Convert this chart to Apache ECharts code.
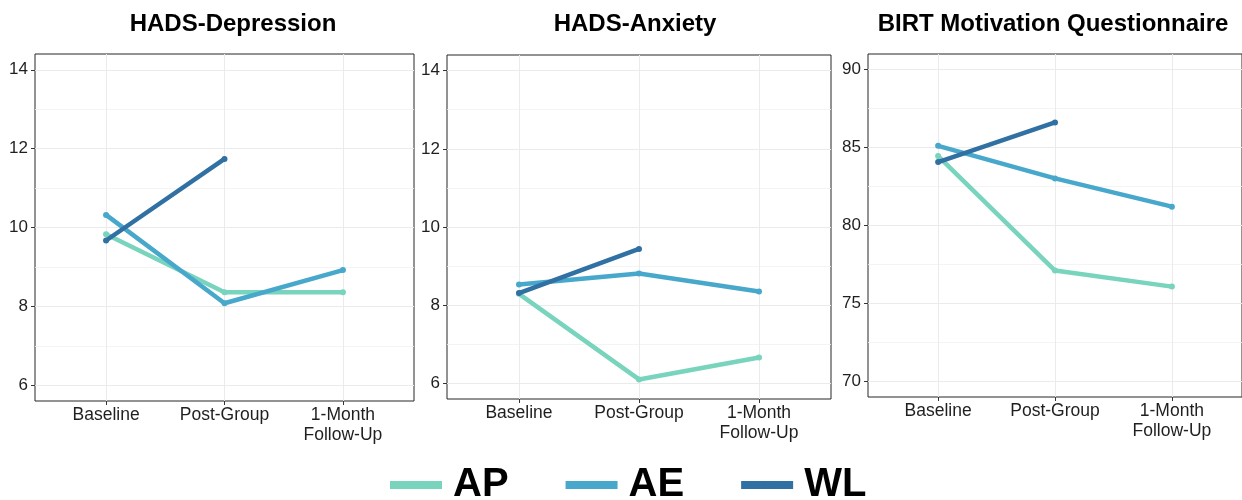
<!DOCTYPE html>
<html>
<head>
<meta charset="utf-8">
<script src="https://cdn.jsdelivr.net/npm/echarts@6/dist/echarts.min.js"></script>
<style>
  html, body { margin: 0; padding: 0; background: #fff; }
  #chart { width: 1242px; height: 500px; }
</style>
</head>
<body>
<div id="chart"></div>
<script>
// Time points shared by every panel
const timepoints = ['Baseline', 'Post-Group', '1-Month\nFollow-Up'];
const groups = ['AP', 'AE', 'WL'];
const groupColors = ['#78d4bd', '#47a8cc', '#3070a2'];

// Panel titles
const panelTitles = ['HADS-Depression', 'HADS-Anxiety', 'BIRT Motivation Questionnaire'];

// Group means per panel (WL has no follow-up)
const depAP = [9.83, 8.36, 8.36];
const depAE = [10.32, 8.08, 8.92];
const depWL = [9.67, 11.74];

const anxAP = [8.29, 6.10, 6.66];
const anxAE = [8.53, 8.81, 8.35];
const anxWL = [8.31, 9.44];

const motAP = [84.45, 77.11, 76.08];
const motAE = [85.11, 83.02, 81.21];
const motWL = [84.07, 86.61];

// Y tick values per panel
const depTicks = [6, 8, 10, 12, 14];
const anxTicks = [6, 8, 10, 12, 14];
const motTicks = [70, 75, 80, 85, 90];

const panelData = [
  [depAP, depAE, depWL],
  [anxAP, anxAE, anxWL],
  [motAP, motAE, motWL]
];
const panelTicks = [depTicks, anxTicks, motTicks];

// Layout of each plotting panel
const grids = [
  { left: 35,  right: 828, top: 54, bottom: 99 },
  { left: 447, right: 411, top: 55, bottom: 101 },
  { left: 868, right: -11, top: 54, bottom: 103 }
];
const titleCenters = [233, 635, 1053];

const axisFont = { fontFamily: 'Liberation Sans', fontSize: 17, color: '#1f1f1f' };
const gridLineColor = '#ebebeb';

const xAxes = [], yAxes = [], series = [];

panelTicks.forEach((ticks, p) => {
  const step = ticks[1] - ticks[0];
  const lo = ticks[0], hi = ticks[ticks.length - 1];
  const pad = (hi - lo) * 0.05;
  const minors = ticks.slice(0, -1).map(t => t + step / 2);

  xAxes.push({
    type: 'value', gridIndex: p, min: -0.6, max: 2.6,
    axisLine: { show: false, onZero: false },
    axisTick: { show: true, customValues: [0, 1, 2], length: 4, lineStyle: { color: '#333' } },
    axisLabel: Object.assign({}, axisFont, {
      customValues: [0, 1, 2], margin: 4, lineHeight: 20, fontSize: 17.5,
      formatter: v => timepoints[Math.round(v)]
    }),
    splitLine: { show: true, lineStyle: { color: gridLineColor, width: 1 } }
  });

  // major y axis with labels
  yAxes.push({
    type: 'value', gridIndex: p, min: lo - pad, max: hi + pad, position: 'left',
    axisLine: { show: false, onZero: false },
    axisTick: { show: true, customValues: ticks, length: 4, lineStyle: { color: '#333' } },
    axisLabel: Object.assign({ customValues: ticks, margin: 7 }, axisFont),
    splitLine: { show: true, lineStyle: { color: gridLineColor, width: 1 } }
  });
  // minor grid lines between the major ticks
  yAxes.push({
    type: 'value', gridIndex: p, min: lo - pad, max: hi + pad, position: 'left',
    axisLine: { show: false, onZero: false },
    axisTick: { show: false, customValues: minors },
    axisLabel: { show: false, customValues: minors },
    splitLine: { show: true, lineStyle: { color: '#f1f1f1', width: 0.8 } }
  });

  panelData[p].forEach((vals, g) => {
    series.push({
      type: 'line', name: groups[g],
      xAxisIndex: p, yAxisIndex: p * 2,
      data: vals.map((v, i) => [i, v]),
      color: groupColors[g],
      symbol: 'circle', symbolSize: 6, showSymbol: true,
      lineStyle: { width: 4.5, cap: 'round', join: 'round' },
      itemStyle: { color: groupColors[g] },
      emphasis: { disabled: true },
      z: 3 + g
    });
  });
});

const chart = echarts.init(document.getElementById('chart'), null, { renderer: 'canvas' });
chart.setOption({
  animation: false,
  backgroundColor: '#fff',
  grid: grids.map(g => Object.assign({
    show: true, borderColor: '#262626', borderWidth: 1, backgroundColor: 'transparent',
    containLabel: false
  }, g)),
  xAxis: xAxes,
  yAxis: yAxes,
  series: series,
  legend: {
    data: groups,
    left: 386, top: 465, padding: 0,
    itemWidth: 52, itemHeight: 10, itemGap: 53,
    lineStyle: { width: 8, cap: 'butt' },
    textStyle: {
      fontFamily: '"Liberation Sans", Arial, sans-serif',
      fontWeight: 'bold', fontSize: 40, color: '#000', padding: [0, 0, 0, 6]
    },
    selectedMode: false
  },
  graphic: panelTitles.map((t, i) => ({
    type: 'text', x: titleCenters[i], y: 24,
    style: {
      text: t, textAlign: 'center', textVerticalAlign: 'middle',
      font: 'bold 24px "Liberation Sans", Arial, sans-serif', fill: '#000'
    }
  }))
});
</script>
</body>
</html>
